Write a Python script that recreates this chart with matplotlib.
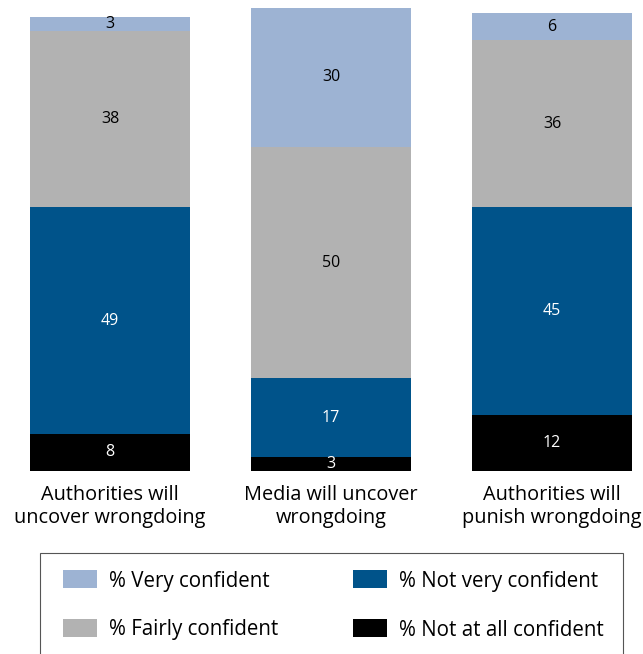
import matplotlib
matplotlib.use("Agg")
import matplotlib.pyplot as plt
from matplotlib.patches import Rectangle

categories = ["Authorities will\nuncover wrongdoing",
              "Media will uncover\nwrongdoing",
              "Authorities will\npunish wrongdoing"]
series_names = ["% Not at all confident", "% Not very confident",
                "% Fairly confident", "% Very confident"]
not_at_all = [8, 3, 12]
not_very = [49, 17, 45]
fairly = [38, 50, 36]
very = [3, 30, 6]

colors = {"% Very confident": "#9DB3D3",
          "% Fairly confident": "#B2B2B2",
          "% Not very confident": "#00538A",
          "% Not at all confident": "#000000"}
text_colors = {"% Very confident": "black",
               "% Fairly confident": "black",
               "% Not very confident": "white",
               "% Not at all confident": "white"}

plt.rcParams["font.family"] = ["Open Sans", "DejaVu Sans"]

W, H = 643, 654
fig = plt.figure(figsize=(W / 100, H / 100), dpi=100)
ax = fig.add_axes([0, 183 / H, 1, 463 / H])
ax.set_xlim(-110 / 221, (W - 110) / 221)
ax.set_ylim(0, 100)
ax.axis("off")

x = [0, 1, 2]
bottoms = [0, 0, 0]
for name, vals in zip(series_names, [not_at_all, not_very, fairly, very]):
    ax.bar(x, vals, width=160 / 221, bottom=bottoms, color=colors[name],
           linewidth=0)
    for xi, v, b in zip(x, vals, bottoms):
        ax.text(xi, b + v / 2, str(v), ha="center", va="center",
                fontsize=11.5, color=text_colors[name])
    bottoms = [b + v for b, v in zip(bottoms, vals)]

# category labels below the bars
for xi, cat in zip(x, categories):
    px = 110 + 221 * xi
    fig.text(px / W, 1 - 485 / H, cat, ha="center", va="top",
             fontsize=14.3, linespacing=1.22)

# legend box (bottom edge runs off the figure)
fig.patches.append(Rectangle((40 / W, -0.01), (623 - 40) / W, (0.01 + (H - 553) / H),
                             transform=fig.transFigure, fill=False,
                             edgecolor="#555555", linewidth=0.8))
legend_items = [("% Very confident", 63, 579), ("% Not very confident", 353, 579),
                ("% Fairly confident", 63, 628), ("% Not at all confident", 353, 628)]
for name, lx, ly in legend_items:
    fig.patches.append(Rectangle((lx / W, 1 - (ly + 9) / H), 34 / W, 18 / H,
                                 transform=fig.transFigure,
                                 facecolor=colors[name], edgecolor="none"))
    fig.text((lx + 46) / W, 1 - (ly + 2) / H, name, ha="left", va="center",
             fontsize=14.8)

fig.savefig("out.png", dpi=100)
